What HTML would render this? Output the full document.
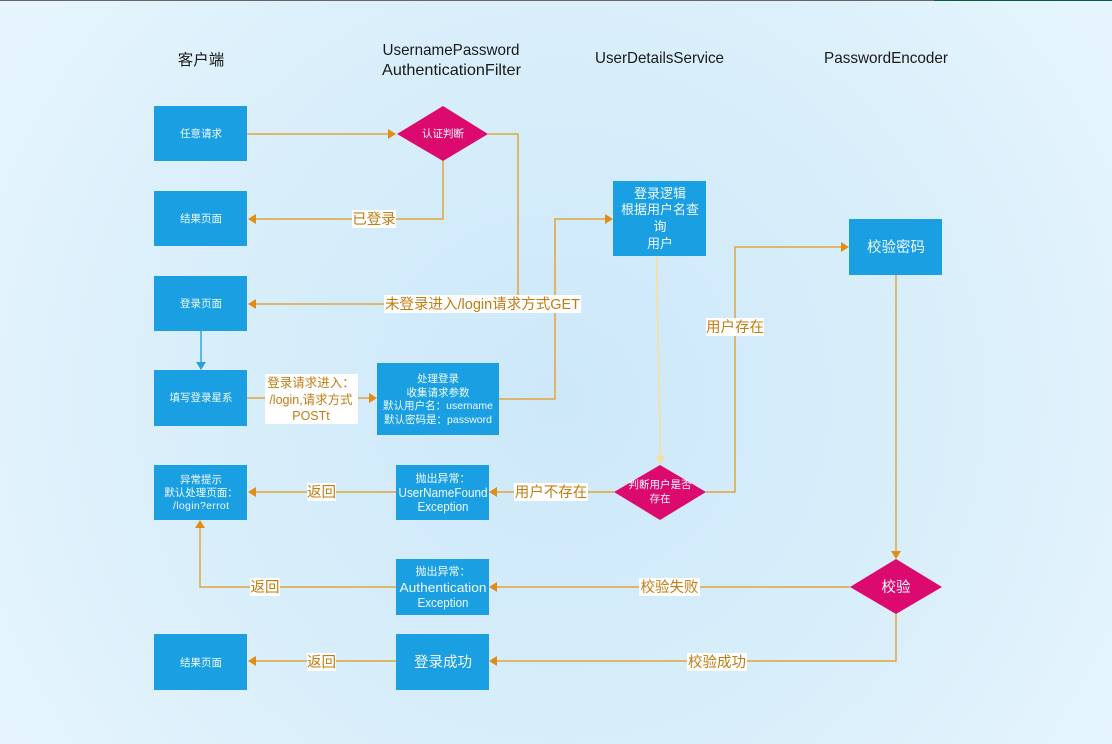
<!DOCTYPE html>
<html lang="zh"><head><meta charset="utf-8"><style>
html,body{margin:0;padding:0;width:1112px;height:744px;overflow:hidden}
svg{display:block}
text{font-family:"Liberation Sans","Noto Sans CJK SC",sans-serif;text-anchor:middle}
.h{fill:#1a1a1a;font-size:16px}
.w{fill:#f2fbff;font-size:10.5px}
.m{fill:#f2fbff;font-size:13px}
.b{fill:#f2fbff;font-size:14.5px}
.l{fill:#c27c12;font-size:14.5px}
.s{fill:#c27c12;font-size:12.5px}
.r{fill:#1a9fe2}
.d{fill:#dc0a6e}
.c{fill:none;stroke:#e0a53c;stroke-width:1.5}
.a{fill:#e28c12}
.p{fill:#fff}
</style></head><body>
<svg width="1112" height="744" viewBox="0 0 1112 744" xmlns="http://www.w3.org/2000/svg">
<defs><radialGradient id="g" gradientUnits="userSpaceOnUse" cx="560" cy="400" r="660">
<stop offset="0" stop-color="#cde8f9"/><stop offset="0.55" stop-color="#d8eefa"/><stop offset="1" stop-color="#e6f5fd"/></radialGradient></defs>
<rect width="1112" height="744" fill="url(#g)"/>
<rect width="1112" height="1" fill="#666"/>
<rect x="934" width="178" height="1" fill="#0c5a40"/>

<path class="c" d="M247 134H390M488 134H518V304M385 304H252M443 161V219H252M247 398H370M499 399H555V219H606M706 492H735V247H842M614 492H496M396 492H254M896 275V552M850 587H496M396 587H200V527M896 614V661H496M396 661H254"/>
<path d="M201 331V363" stroke="#2a9fdc" stroke-width="1.4" fill="none"/>
<path d="M656.500 256L660.500 456" stroke="#f3e0a8" stroke-width="1.8" fill="none"/>

<path class="a" d="M396 134l-8-5v10zM248 219l8-5v10zM248 304l8-5v10zM377 398l-8-5v10zM613 219l-8-5v10zM849 247l-8-5v10zM489 492l8-5v10zM248 492l8-5v10zM489 587l8-5v10zM200 520l-5 8h10zM896 559l-5-8h10zM489 661l8-5v10zM248 661l8-5v10z"/>
<path fill="#2a9fdc" d="M201 370l-5-8h10z"/>
<path fill="#f3e0a8" d="M660.500 465l-5-9h10z"/>

<rect class="r" x="154" y="106" width="93" height="55"/>
<rect class="r" x="154" y="191" width="93" height="55"/>
<rect class="r" x="154" y="276" width="93" height="55"/>
<rect class="r" x="154" y="370" width="93" height="56"/>
<rect class="r" x="377" y="363" width="122" height="72"/>
<rect class="r" x="154" y="465" width="93" height="55"/>
<rect class="r" x="396" y="465" width="93" height="55"/>
<rect class="r" x="613" y="181" width="93" height="75"/>
<rect class="r" x="849" y="219" width="93" height="56"/>
<rect class="r" x="396" y="559" width="93" height="56"/>
<rect class="r" x="396" y="634" width="93" height="56"/>
<rect class="r" x="154" y="634" width="93" height="56"/>
<path class="d" d="M443 106L488 134L443 161L397 134Z"/>
<path class="d" d="M660 465L706 492L660 520L614 492Z"/>
<path class="d" d="M896 559L942 587L896 614L850 587Z"/>

<rect class="p" x="352" y="210" width="44" height="18"/>
<rect class="p" x="384" y="295" width="197" height="18"/>
<rect class="p" x="706" y="318" width="58" height="18"/>
<rect class="p" x="265" y="374" width="93" height="50"/>
<rect class="p" x="307" y="483" width="29" height="18"/>
<rect class="p" x="514" y="483" width="74" height="18"/>
<rect class="p" x="250" y="578" width="30" height="18"/>
<rect class="p" x="639" y="578" width="61" height="18"/>
<rect class="p" x="307" y="653" width="29" height="18"/>
<rect class="p" x="687" y="653" width="60" height="18"/>

<text class="h" x="201" y="65" style="font-size:15.500px">客户端</text>
<text class="h" x="451" y="55" textLength="137" lengthAdjust="spacingAndGlyphs">UsernamePassword</text>
<text class="h" x="451.500" y="75" textLength="139" lengthAdjust="spacingAndGlyphs">AuthenticationFilter</text>
<text class="h" x="659.500" y="63" textLength="129" lengthAdjust="spacingAndGlyphs">UserDetailsService</text>
<text class="h" x="886" y="63" textLength="124" lengthAdjust="spacingAndGlyphs">PasswordEncoder</text>

<text class="w" x="201" y="137">任意请求</text>
<text class="w" x="201" y="222">结果页面</text>
<text class="w" x="201" y="307">登录页面</text>
<text class="w" x="201" y="401">填写登录星系</text>
<text class="w" x="443" y="137">认证判断</text>
<text class="w" x="438" y="382">处理登录</text>
<text class="w" x="438" y="396">收集请求参数</text>
<text class="w" x="438" y="409" textLength="110">默认用户名：username</text>
<text class="w" x="438" y="423" textLength="108">默认密码是：password</text>
<text class="w" x="201" y="483">异常提示</text>
<text class="w" x="201" y="496">默认处理页面：</text>
<text class="w" x="201" y="509" textLength="56">/login?errot</text>
<text class="w" x="443" y="482" style="font-size:11px">抛出异常：</text>
<text class="w" x="443" y="497" style="font-size:12.500px" textLength="89" lengthAdjust="spacingAndGlyphs">UserNameFound</text>
<text class="w" x="443" y="511" style="font-size:12.500px" textLength="51" lengthAdjust="spacingAndGlyphs">Exception</text>
<text class="w" x="443" y="575" style="font-size:11px">抛出异常：</text>
<text class="w" x="443" y="592" style="font-size:12.500px" textLength="87" lengthAdjust="spacingAndGlyphs">Authentication</text>
<text class="w" x="443" y="607" style="font-size:12.500px" textLength="51" lengthAdjust="spacingAndGlyphs">Exception</text>
<text class="w" x="660" y="488">判断用户是否</text>
<text class="w" x="660" y="502">存在</text>
<text class="w" x="201" y="666">结果页面</text>

<text class="m" x="660" y="198">登录逻辑</text>
<text class="m" x="660" y="214">根据用户名查</text>
<text class="m" x="660" y="231">询</text>
<text class="m" x="660" y="248">用户</text>
<text class="b" x="896" y="252">校验密码</text>
<text class="b" x="896" y="592">校验</text>
<text class="b" x="443" y="667">登录成功</text>

<text class="l" x="374" y="224">已登录</text>
<text class="l" x="482.500" y="309" textLength="195">未登录进入/login请求方式GET</text>
<text class="l" x="735" y="332">用户存在</text>
<text class="s" x="311" y="387">登录请求进入：</text>
<text class="s" x="311" y="404">/login,请求方式</text>
<text class="s" x="311" y="420">POSTt</text>
<text class="l" x="321.500" y="497">返回</text>
<text class="l" x="551" y="497">用户不存在</text>
<text class="l" x="265" y="592">返回</text>
<text class="l" x="669.500" y="592">校验失败</text>
<text class="l" x="321.500" y="667">返回</text>
<text class="l" x="717" y="667">校验成功</text>
</svg>
</body></html>
